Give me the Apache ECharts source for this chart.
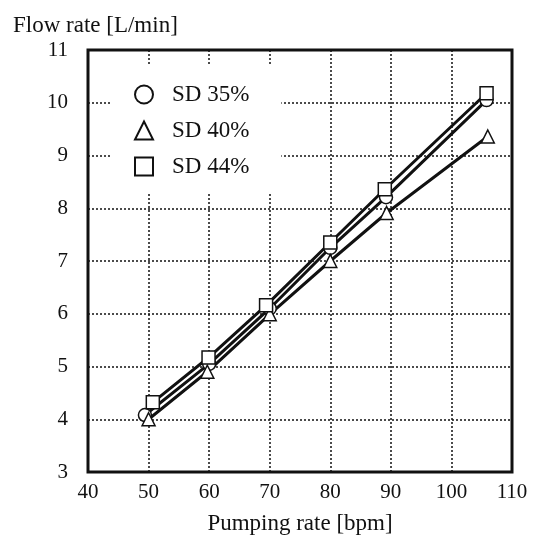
<!DOCTYPE html>
<html lang="en">
<head>
    <meta charset="UTF-8">
    <title>Flow rate vs pumping rate</title>
</head>
<body style="margin:0">

    <div id="echarts" style="width: 535px; height: 540px"></div>
    <script src="https://cdn.jsdelivr.net/npm/echarts@6/dist/echarts.min.js"></script>
    <script>
        // values
        const sd35X = [49.4, 60, 70, 80, 89.2, 105.8];
        const sd35Y = [4.08, 5.05, 6.1, 7.25, 8.21, 10.05];
        const sd40X = [50, 59.7, 70, 80, 89.3, 106];
        const sd40Y = [4.0, 4.9, 5.99, 7.0, 7.91, 9.36];
        const sd44X = [50.7, 59.9, 69.4, 80, 89, 105.8];
        const sd44Y = [4.32, 5.17, 6.16, 7.35, 8.36, 10.18];

        const names = ['SD 35%', 'SD 40%', 'SD 44%'];
        const symbols = ['circle', 'triangle', 'rect'];
        const font = '"Liberation Serif", "DejaVu Serif", serif';

        function pairs(xs, ys) {
            return xs.map((x, i) => [x, ys[i]]);
        }

        const seriesData = [pairs(sd35X, sd35Y), pairs(sd40X, sd40Y), pairs(sd44X, sd44Y)];

        const option = {
            animation: false,
            backgroundColor: '#fff',
            title: {
                text: 'Flow rate [L/min]',
                left: 8,
                top: 9,
                textStyle: { fontFamily: font, fontSize: 23, fontWeight: 'normal', color: '#111' }
            },
            grid: {
                left: 88, right: 23, top: 50, bottom: 66,
                show: true, borderColor: '#111', borderWidth: 3, z: 5
            },
            legend: {
                orient: 'vertical',
                left: 111,
                top: 65,
                itemGap: 13,
                itemWidth: 18,
                itemHeight: 18,
                backgroundColor: '#fff',
                padding: [18, 32, 15, 23],
                textStyle: { fontFamily: font, fontSize: 23, color: '#111', padding: [0, 0, 0, 14] },
                itemStyle: { color: '#fff', borderColor: '#111', borderWidth: 2 },
                data: names.map((n, i) => ({ name: n, icon: symbols[i] }))
            },
            xAxis: {
                type: 'value',
                min: 40, max: 110, interval: 10,
                name: 'Pumping rate [bpm]',
                nameLocation: 'middle',
                nameGap: 40,
                nameTextStyle: { fontFamily: font, fontSize: 23, color: '#111' },
                axisLine: { show: false },
                axisTick: { show: false },
                axisLabel: { fontFamily: font, fontSize: 21, color: '#111', margin: 10 },
                splitLine: { lineStyle: { color: '#111', type: [2, 2], width: 1.5 } }
            },
            yAxis: {
                type: 'value',
                min: 3, max: 11, interval: 1,
                axisLine: { show: false },
                axisTick: { show: false },
                axisLabel: { fontFamily: font, fontSize: 21, color: '#111', margin: 20 },
                splitLine: { lineStyle: { color: '#111', type: [2, 2], width: 1.5 } }
            },
            series: names.map((n, i) => ({
                name: n,
                type: 'line',
                data: seriesData[i],
                symbol: symbols[i],
                symbolSize: 13,
                z: 3,
                lineStyle: { color: '#111', width: 3 },
                itemStyle: { color: '#fff', borderColor: '#111', borderWidth: 1.5 }
            }))
        };

        var chartDom = document.getElementById("echarts");
        var myChart = echarts.init(chartDom);
        myChart.setOption(option);
    </script>
</body>
</html>
